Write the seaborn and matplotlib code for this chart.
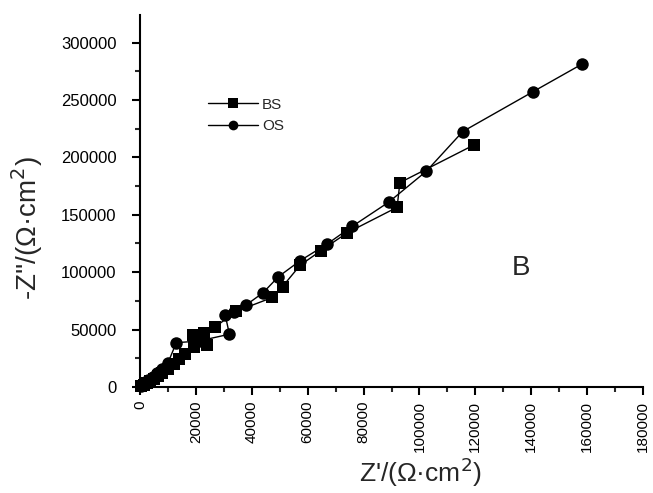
import matplotlib
matplotlib.use("Agg")
import matplotlib.pyplot as plt
import seaborn as sns
import pandas as pd
from matplotlib.ticker import MultipleLocator

bs_x = [500, 1500, 2500, 3500, 5000, 6500, 8000, 10000, 12000, 14000, 16000, 19500, 19000,
        24000, 23000, 27000, 34500, 47400, 51000, 57300, 64700, 74200, 92000, 93000, 119500]
bs_y = [800, 2000, 3500, 5000, 7000, 9500, 12000, 16000, 20000, 24000, 29000, 35000, 45000,
        36600, 47000, 52500, 66000, 78000, 87500, 106000, 118700, 134400, 156500, 178000, 210800]

os_x = [300, 1000, 2000, 3000, 4500, 6000, 8000, 10000, 13000, 21000, 32000, 30500, 33500,
        38000, 44000, 49500, 57300, 67000, 76000, 89000, 102500, 115500, 140500, 158000]
os_y = [500, 2000, 4000, 6000, 9000, 12000, 16000, 21000, 38600, 40000, 46000, 62500, 65500,
        71500, 82000, 96000, 110000, 124600, 140000, 161000, 188000, 222500, 257000, 281000]

series_names = ["BS", "OS"]

sns.set_theme(style="ticks")
plt.rcParams['font.family'] = ['Liberation Sans', 'DejaVu Sans']

fig = plt.figure(figsize=(6.53, 4.93), dpi=100)
ax = fig.add_axes([140/653, 1-387/493, 503/653, (387-15)/493])

df_bs = pd.DataFrame({"x": bs_x, "y": bs_y})
df_os = pd.DataFrame({"x": os_x, "y": os_y})

sns.lineplot(data=df_bs, x="x", y="y", sort=False, ax=ax, color="black", lw=1.0,
             marker="s", markersize=8, markeredgewidth=0, label=series_names[0],
             clip_on=False, estimator=None)
sns.lineplot(data=df_os, x="x", y="y", sort=False, ax=ax, color="black", lw=1.0,
             marker="o", markersize=9, markeredgewidth=0, label=series_names[1],
             clip_on=False, estimator=None)

ax.set_xlim(0, 180000)
ax.set_ylim(0, 324000)
ax.xaxis.set_major_locator(MultipleLocator(20000))
ax.xaxis.set_minor_locator(MultipleLocator(10000))
ax.yaxis.set_major_locator(MultipleLocator(50000))
ax.yaxis.set_minor_locator(MultipleLocator(25000))
ax.set_yticks([0, 50000, 100000, 150000, 200000, 250000, 300000])

for s in ["top", "right"]:
    ax.spines[s].set_visible(False)
for s in ["left", "bottom"]:
    ax.spines[s].set_linewidth(1.5)
    ax.spines[s].set_color("black")

ax.tick_params(axis="both", which="major", direction="out", length=6, width=1.5,
               colors="black")
ax.tick_params(axis="y", which="major", pad=11, labelsize=12)
ax.tick_params(axis="both", which="minor", direction="out", length=3.5, width=1.5)
ax.tick_params(axis="x", which="major", labelrotation=90, pad=4, labelsize=11)
for lab in ax.get_xticklabels():
    lab.set_verticalalignment("top")

ax.set_xlabel("Z'/(Ω·cm$^2$)", fontsize=19)
ax.set_ylabel("-Z''/(Ω·cm$^2$)", fontsize=20)
ax.xaxis.set_label_coords(0.557, -0.228)
ax.yaxis.set_label_coords(-0.225, 0.427)
ax.xaxis.label.set_verticalalignment("center")
ax.yaxis.label.set_verticalalignment("center")

fig.text(521/653, 1-268/493, "B", fontsize=20, ha="center", va="center")

leg = ax.legend(loc="upper left", bbox_to_anchor=(200/653, 1-90/493),
                bbox_transform=fig.transFigure, frameon=False, fontsize=11,
                handlelength=3.3, labelspacing=0.5, handletextpad=0.25, borderpad=0)
for h in leg.legend_handles:
    h.set_markersize(7)

fig.savefig("out.png", dpi=100)
